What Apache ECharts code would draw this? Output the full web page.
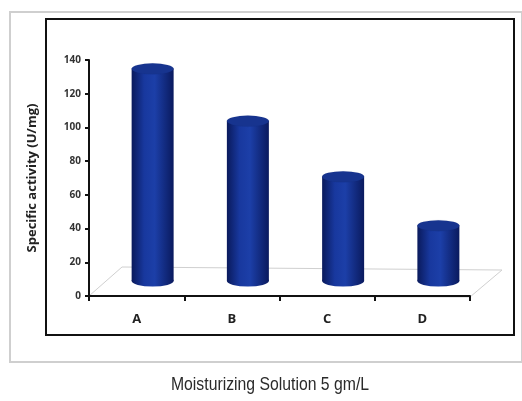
<!DOCTYPE html>
<html>
<head>
<meta charset="utf-8">
<script src="https://cdn.jsdelivr.net/npm/echarts@6/dist/echarts.min.js"></script>
<style>
  html, body { margin: 0; padding: 0; background: #fff; }
  #chart { width: 522px; height: 401px; }
</style>
</head>
<body>
<div id="chart"></div>
<script>
// data
const categories = ['A', 'B', 'C', 'D']
const activity = [126, 95, 62, 33]
const yTicks = { min: 0, max: 140, interval: 20 }
const caption = 'Moisturizing Solution 5 gm/L'

const chart = echarts.init(document.getElementById('chart'))

// cylinder body colour: dark edges, lighter middle
const bodyColor = new echarts.graphic.LinearGradient(0, 0, 1, 0, [
  { offset: 0, color: '#0a1a5c' },
  { offset: 0.3, color: '#18389e' },
  { offset: 0.55, color: '#1c3fa8' },
  { offset: 1, color: '#0a1a5e' }
])

const option = {
  animation: false,
  backgroundColor: '#fff',
  graphic: [
    // outer light frame
    { type: 'rect', shape: { x: 10, y: 12, width: 512, height: 350 },
      style: { fill: 'none', stroke: '#cfcfcf', lineWidth: 2 }, z: -10 },
    // inner black frame
    { type: 'rect', shape: { x: 46, y: 19, width: 468, height: 316 },
      style: { fill: 'none', stroke: '#111', lineWidth: 2 }, z: -10 },
    // floor of the 3D plot
    { type: 'polygon', shape: { points: [[89, 296], [122, 267], [502, 270], [470, 297]] },
      style: { fill: '#fff', stroke: '#d0d0d0', lineWidth: 1 }, z: -5 },
    // caption under the chart, narrow like the original
    { type: 'text', x: 270, y: 385, scaleX: 0.83,
      style: { text: caption, fontFamily: '"Liberation Sans", Arial, sans-serif',
        fontSize: 19, fill: '#2a2a2a', align: 'center', verticalAlign: 'middle' } }
  ],
  grid: [
    { left: 89, right: 52, top: 60, bottom: 105 },
    { left: 105, right: 36, top: 45, bottom: 120 }
  ],
  xAxis: [
    {
      type: 'category', gridIndex: 0, data: categories,
      axisLine: { lineStyle: { color: '#111', width: 2 } },
      axisTick: { show: true, length: 5, lineStyle: { color: '#111', width: 2 } },
      axisLabel: { margin: 17, fontSize: 13, fontWeight: 'bold', color: '#222',
        fontFamily: '"Open Sans", sans-serif' }
    },
    {
      type: 'category', gridIndex: 1, data: categories, show: false
    }
  ],
  yAxis: [
    {
      type: 'value', gridIndex: 0,
      min: yTicks.min, max: yTicks.max, interval: yTicks.interval,
      name: 'Specific activity (U/mg)',
      nameLocation: 'middle',
      nameGap: 50,
      nameTextStyle: { fontSize: 13, fontWeight: 'bold', color: '#222',
        fontFamily: '"Open Sans", sans-serif' },
      axisLine: { show: true, lineStyle: { color: '#111', width: 2 } },
      axisTick: { show: true, length: 4, lineStyle: { color: '#111', width: 2 } },
      axisLabel: { margin: 8, fontSize: 10, fontWeight: 'bold', color: '#333',
        fontFamily: '"Open Sans", sans-serif' },
      splitLine: { show: false }
    },
    {
      type: 'value', gridIndex: 1,
      min: yTicks.min, max: yTicks.max, interval: yTicks.interval,
      show: false, splitLine: { show: false }
    }
  ],
  series: [
    {
      type: 'bar', xAxisIndex: 1, yAxisIndex: 1,
      data: activity, barWidth: 42,
      itemStyle: { color: bodyColor },
      z: 2
    },
    {
      // top cap
      type: 'pictorialBar', xAxisIndex: 1, yAxisIndex: 1,
      data: activity, symbol: 'circle', symbolSize: [42, 11],
      symbolPosition: 'end', symbolOffset: [0, '-50%'],
      itemStyle: { color: '#17348f', borderColor: '#0b1c5c', borderWidth: 1 },
      z: 4
    },
    {
      // rounded base
      type: 'pictorialBar', xAxisIndex: 1, yAxisIndex: 1,
      data: activity, symbol: 'circle', symbolSize: [42, 11],
      symbolPosition: 'start', symbolOffset: [0, '50%'],
      itemStyle: { color: bodyColor },
      z: 1
    }
  ]
}

chart.setOption(option)
</script>
</body>
</html>
